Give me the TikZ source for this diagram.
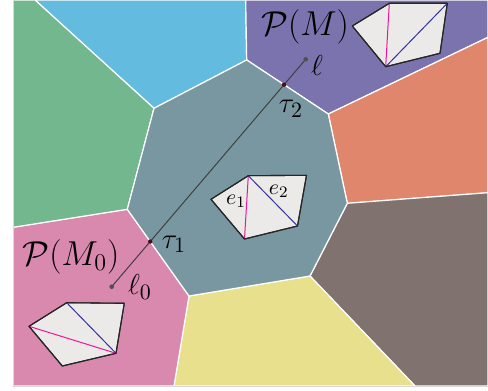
\documentclass[tikz,border=0pt]{standalone}
\usepackage{amsmath}
\usetikzlibrary{calc}
\definecolor{cgreen}{RGB}{115,183,142}
\definecolor{ccyan}{RGB}{99,187,224}
\definecolor{cpurple}{RGB}{123,115,174}
\definecolor{corange}{RGB}{224,134,108}
\definecolor{cbrown}{RGB}{128,115,111}
\definecolor{cyellow}{RGB}{232,224,140}
\definecolor{cpink}{RGB}{217,136,174}
\definecolor{ccentral}{RGB}{120,151,160}
\definecolor{polyfill}{RGB}{235,234,232}
\definecolor{magentaedge}{RGB}{240,20,150}
\definecolor{blueedge}{RGB}{50,50,160}
\definecolor{taudot}{RGB}{75,10,30}
\definecolor{enddot}{RGB}{80,80,80}
\begin{document}
\begin{tikzpicture}[x=0.5pt,y=-0.5pt,
  cell/.style={draw=white,line width=0.6pt,line join=round},
  polyg/.style={fill=polyfill,draw=black!85,line width=0.55pt,line join=round},
  medge/.style={draw=magentaedge,line width=0.5pt},
  bedge/.style={draw=blueedge,line width=0.5pt},
  biglabel/.style={inner sep=0pt,font=\fontsize{17}{20}\selectfont},
  ptlabel/.style={inner sep=0pt,font=\fontsize{15}{18}\selectfont},
  elabel/.style={inner sep=0pt,font=\fontsize{11}{13}\selectfont}]
\useasboundingbox (0,0) rectangle (488,391);
% Voronoi vertices
\coordinate (A) at (246.7,60);
\coordinate (B) at (154,108.3);
\coordinate (C) at (127.3,209.3);
\coordinate (D) at (189,296);
\coordinate (E) at (310,276);
\coordinate (F) at (347.3,203.3);
\coordinate (G) at (328.3,114);
\coordinate (a) at (245.7,0);
\coordinate (b) at (35,0);
\coordinate (c) at (13,227.3);
\coordinate (d) at (174,386);
\coordinate (e) at (415,386);
\coordinate (f) at (488,192.7);
\coordinate (g) at (488,37.3);
\coordinate (TL) at (13,0);
\coordinate (TR) at (488,0);
\coordinate (BL) at (13,386);
\coordinate (BR) at (488,386);
% cells
\begin{scope}
\clip (TL) rectangle (BR);
\path[cell,fill=ccyan] (b) -- (a) -- (A) -- (B) -- cycle;
\path[cell,fill=cpurple] (a) -- (TR) -- (g) -- (G) -- (A) -- cycle;
\path[cell,fill=corange] (g) -- (f) -- (F) -- (G) -- cycle;
\path[cell,fill=cbrown] (f) -- (BR) -- (e) -- (E) -- (F) -- cycle;
\path[cell,fill=cyellow] (e) -- (d) -- (D) -- (E) -- cycle;
\path[cell,fill=cpink] (d) -- (BL) -- (c) -- (C) -- (D) -- cycle;
\path[cell,fill=cgreen] (c) -- (TL) -- (b) -- (B) -- (C) -- cycle;
\path[cell,fill=ccentral] (A) -- (B) -- (C) -- (D) -- (E) -- (F) -- (G) -- cycle;
\end{scope}
\draw[black!15,line width=0.4pt] (TL) -- (BL) -- (BR);
% path l0 -- l
\coordinate (l0) at (111.7,286.7);
\coordinate (l) at (305.7,59.3);
\coordinate (t1) at (intersection of l0--l and C--D);
\coordinate (t2) at (intersection of l0--l and A--G);
\draw[black!75,line width=0.5pt] (l0) -- (l);
\fill[enddot] (l0) circle (2.3);
\fill[enddot] (l) circle (2.3);
\fill[taudot] (t1) circle (2.2);
\fill[taudot] (t2) circle (2.2);
\node[ptlabel] (lab-l) at (317,66) {$\ell$};
\node[ptlabel] (lab-l0) at (140,287) {$\ell_0$};
\node[ptlabel] (lab-t1) at (174,244) {$\tau_1$};
\node[ptlabel] (lab-t2) at (291,108.7) {$\tau_2$};
% top-right polygon
\coordinate (p1) at (352.3,26);
\coordinate (p2) at (389.3,3.3);
\coordinate (p3) at (447.3,3.3);
\coordinate (p4) at (440,53.3);
\coordinate (p5) at (385.7,66.7);
\path[polyg] (p1) -- (p2) -- (p3) -- (p4) -- (p5) -- cycle;
\draw[medge] (p2) -- (p5);
\draw[bedge] (p3) -- (p5);
\path[draw=black!85,line width=0.55pt,line join=round] (p1) -- (p2) -- (p3) -- (p4) -- (p5) -- cycle;
% center polygon
\coordinate (q1) at (211,199.3);
\coordinate (q2) at (248.3,175.7);
\coordinate (q3) at (306.5,175.3);
\coordinate (q4) at (297.5,226);
\coordinate (q5) at (244.5,239);
\path[polyg] (q1) -- (q2) -- (q3) -- (q4) -- (q5) -- cycle;
\draw[medge] (q2) -- (q5);
\draw[bedge] (q2) -- (q4);
\path[draw=black!85,line width=0.55pt,line join=round] (q1) -- (q2) -- (q3) -- (q4) -- (q5) -- cycle;
\node[elabel] (lab-e1) at (236,201) {$e_1$};
\node[elabel] (lab-e2) at (278.7,191) {$e_2$};
% bottom-left polygon
\coordinate (r1) at (29,326.3);
\coordinate (r2) at (66.7,302.7);
\coordinate (r3) at (124.3,303.3);
\coordinate (r4) at (116,353.3);
\coordinate (r5) at (62.3,366);
\path[polyg] (r1) -- (r2) -- (r3) -- (r4) -- (r5) -- cycle;
\draw[medge] (r1) -- (r4);
\draw[bedge] (r2) -- (r4);
\path[draw=black!85,line width=0.55pt,line join=round] (r1) -- (r2) -- (r3) -- (r4) -- (r5) -- cycle;
% big labels
\node[biglabel] (lab-PM) at (305,26.5) {$\mathcal{P}(M)$};
\node[biglabel] (lab-PM0) at (71,256.5) {$\mathcal{P}(M_0)$};
\end{tikzpicture}
\end{document}
